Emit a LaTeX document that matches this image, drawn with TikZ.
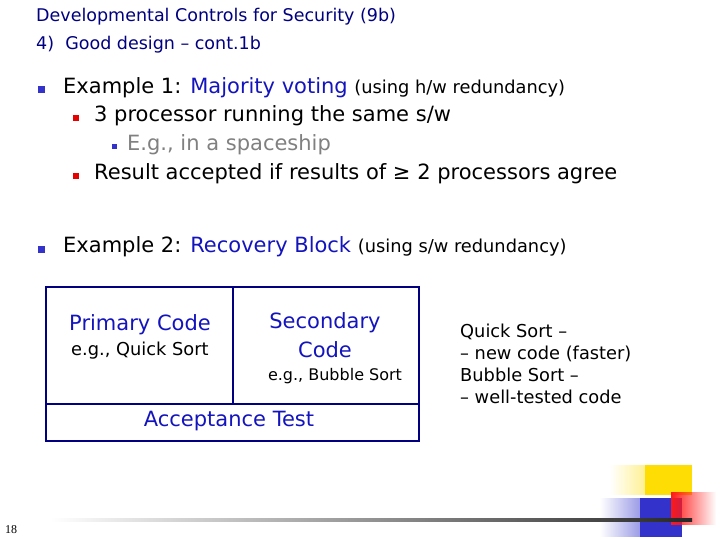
\documentclass[tikz,border=0pt]{standalone}
\usepackage{fontspec}
\setmainfont{DejaVu Sans}
\usetikzlibrary{fadings}
\definecolor{navy}{RGB}{0,0,128}
\definecolor{bblue}{RGB}{51,51,204}
\definecolor{bred}{RGB}{230,0,0}
\definecolor{hblue}{RGB}{20,20,190}
\begin{document}
\begin{tikzpicture}[x=1pt,y=-1pt,
  every node/.style={inner sep=0pt,anchor=west},
  ttl/.style={font=\fontsize{17.5}{20}\selectfont,text=navy},
  lvA/.style={font=\fontsize{21}{24}\selectfont},
  lvB/.style={font=\fontsize{21}{24}\selectfont},
  lvC/.style={font=\fontsize{21}{24}\selectfont,text=gray},
  small/.style={font=\fontsize{17.8}{20}\selectfont},
  bulA/.style={fill=bblue,minimum size=7pt,inner sep=0pt,anchor=center},
  bulB/.style={fill=bred,minimum size=6pt,inner sep=0pt,anchor=center},
  bulC/.style={fill=bblue,minimum size=5pt,inner sep=0pt,anchor=center},
  boxline/.style={navy,line width=1.3pt}]
\useasboundingbox (0,0) rectangle (720,540);
% decorations
\fill[yellow!80!orange,path fading=west] (610,465) rectangle (692,495);
\fill[yellow!80!orange] (645,465) rectangle (692,495);
\fill[bblue,path fading=west] (600,498) rectangle (682,537);
\fill[bblue] (640,498) rectangle (682,537);
\fill[red!90,path fading=east] (671,492) rectangle (716,525);
\shade[left color=white,right color=black!85] (50,518.5) rectangle (692,521.5);
\node[font=\fontsize{12}{14}\selectfont\rmfamily] (pg) at (5,530) {\fontspec{Liberation Serif}18};
% title
\node[ttl] (t1) at (36,17) {Developmental Controls for Security (9b)};
\node[ttl] (t2) at (36,45) {4)\ \ Good design -- cont.1b};
% bullets
\node[bulA] (b1) at (41,90) {};
\node[lvA] (e1) at (63,88) {Example 1: \textcolor{hblue}{Majority voting} {\fontsize{17.8}{20}\selectfont(using h/w redundancy)}};
\node[bulB] (b2) at (76,118) {};
\node[lvB] (e2) at (94,116) {3 processor running the same s/w};
\node[bulC] (b3) at (114,147) {};
\node[lvC] (e3) at (127,145) {E.g., in a spaceship};
\node[bulB] (b4) at (76,176) {};
\node[lvB] (e4) at (94,174) {Result accepted if results of ≥ 2 processors agree};
\node[bulA] (b5) at (41,249) {};
\node[lvA] (e5) at (63,247) {Example 2: \textcolor{hblue}{Recovery Block} {\fontsize{17.8}{20}\selectfont(using s/w redundancy)}};
% box
\draw[boxline] (46,287) rectangle (419,441);
\draw[boxline] (233,287) -- (233,404);
\draw[boxline] (46,404) -- (419,404);
\node[lvB,text=hblue] (pc) at (69,325) {Primary Code};
\node[small] (pq) at (71,351) {e.g., Quick Sort};
\node[lvB,text=hblue,align=center,anchor=center,font=\fontsize{21}{29}\selectfont] (sc) at (325,335) {Secondary\\Code};
\node[anchor=center,font=\fontsize{16}{18}\selectfont] (sb) at (335,376) {e.g., Bubble Sort};
\node[lvB,text=hblue,anchor=center] (at) at (229,421) {Acceptance Test};
\node[small,align=left,anchor=north west,font=\fontsize{17.8}{21.8}\selectfont] (nt) at (460,324) {Quick Sort --\\-- new code (faster)\\Bubble Sort --\\-- well-tested code};
\end{tikzpicture}
\end{document}
